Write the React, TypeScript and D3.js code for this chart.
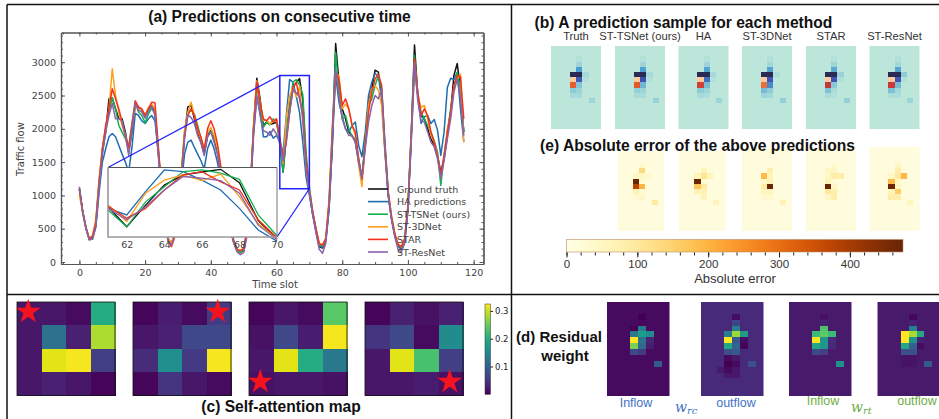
import React, { useEffect, useRef } from 'react';
import * as d3 from 'd3';

const slots = d3.range(118);
const truth = [
  1100,760,520,340,370,560,1150,1650,1950,2450,
  2460,2300,2150,2150,1950,1650,1950,2350,2320,2280,
  2200,2300,2350,2250,1650,1050,620,340,280,420,
  700,1250,1900,2330,2350,2150,1950,1800,1620,1900,
  1970,1850,1650,1350,1000,750,500,300,180,150,
  170,420,1050,2000,2760,2450,2050,2100,2070,2080,
  2100,1840,1350,1880,2370,2620,2690,2755,2430,1500,
  1050,720,480,230,210,330,850,1750,3280,2700,
  2300,2150,1950,1900,1800,1500,1250,1800,2400,2600,
  2880,2850,2500,1700,1000,650,400,240,190,300,
  800,1900,3260,2500,2200,2150,2000,1850,1750,1600,
  1350,1550,1900,2250,2800,2980,2600,1950,
];
const haPred = [
  1090,750,500,330,350,520,1050,1500,1700,1880,
  1930,1880,1750,1620,1500,1350,1720,2230,2200,2120,
  2080,2150,2200,2120,1650,1100,650,360,270,400,
  650,1150,1620,1800,1830,1720,1620,1520,1400,1700,
  1830,1700,1500,1250,950,720,480,290,170,150,
  190,450,1000,1900,2480,2250,1880,1880,1960,1860,
  1900,1800,1640,2210,2740,2700,2490,2250,1800,1270,
  1000,720,460,240,220,320,780,1800,2800,2400,
  2180,2000,1950,2050,2100,1750,1580,1950,2500,2700,
  2830,2790,2450,1650,1000,650,400,240,200,320,
  800,1800,2900,2500,2080,2180,2200,2080,2140,1980,
  1600,1950,2620,2760,2740,2850,2300,1800,
];
const tsNet = [
  1100,760,500,350,390,600,1220,1700,2000,2250,
  2470,2300,2050,1950,1850,1720,2080,2400,2250,2200,
  2090,2220,2310,2230,1700,1100,640,350,270,400,
  720,1300,1950,2250,2280,2220,2050,1850,1680,1880,
  1960,1880,1700,1400,1020,760,500,290,170,140,
  180,450,1080,2020,2650,2350,2020,2100,2060,2150,
  2120,1760,1350,1960,2330,2700,2740,2660,2510,1640,
  1130,760,500,260,240,340,880,1950,3150,2580,
  2150,2200,2000,1880,1850,1550,1280,1800,2350,2450,
  2650,2800,2600,1800,1050,680,420,260,220,330,
  830,1950,3100,2500,2250,2150,2050,1950,1820,1650,
  1150,1600,1950,2300,2600,2850,2600,1950,
];
const st3d = [
  1000,740,510,360,400,640,1250,1720,2020,2300,
  2900,2500,2250,2050,1900,1680,2000,2350,2300,2290,
  2200,2320,2370,2300,1700,1080,640,350,290,430,
  760,1300,1980,2250,2400,2200,1980,1850,1700,1950,
  2020,1900,1720,1400,1030,770,510,310,190,170,
  210,470,1100,2060,2720,2400,2130,2130,2070,2120,
  2140,1880,1480,2170,2490,2620,2480,2640,2090,1430,
  1050,750,490,270,260,360,950,2050,2820,2800,
  2300,2370,2300,2050,1900,1450,1130,1750,2350,2600,
  2650,2580,2350,1650,1050,680,430,270,230,360,
  860,1900,3000,2500,2320,2350,2150,1900,1800,1600,
  1280,1580,2000,2200,2650,2750,2820,1800,
];
const star = [
  1100,760,510,350,380,590,1200,1700,2050,2300,
  2600,2450,2300,2100,1900,1720,2050,2420,2330,2300,
  2200,2300,2400,2390,1750,1100,650,320,230,370,
  720,1280,1900,2200,2300,2200,2000,1880,1680,2000,
  2120,2000,1780,1450,1070,790,530,320,190,170,
  200,470,1080,1980,2700,2380,2150,2120,2180,2100,
  2150,1860,1560,1800,2250,2620,2700,2450,2250,1520,
  1080,760,500,280,250,350,900,1980,2850,2750,
  2350,2450,2300,2050,1950,1550,1250,1750,2250,2550,
  2750,2820,2650,1750,1050,680,420,260,230,350,
  830,1900,3050,2550,2200,2300,2200,1950,1800,1600,
  1300,1600,1950,2250,2650,2800,2780,2150,
];
const stRes = [
  1130,740,520,340,340,540,1120,1620,1950,2200,
  2380,2150,2150,2120,1900,1600,1980,2380,2280,2250,
  2160,2260,2340,2200,1620,1000,580,310,260,390,
  680,1220,1850,2210,2170,2080,1900,1790,1600,1880,
  1950,1800,1620,1300,960,720,470,280,150,110,
  140,390,1000,1920,2500,2200,1970,1950,1900,2000,
  1920,1800,1520,1840,2250,2580,2540,2480,2170,1390,
  1040,720,440,190,130,280,820,1880,2900,2480,
  2150,2000,1900,1900,1800,1500,1250,1700,2100,2350,
  2500,2450,2600,1720,1020,640,380,190,150,280,
  780,1830,3000,2420,2120,2100,1950,1800,1730,1550,
  1250,1520,1850,2150,2550,2750,2450,1900,
];

const seriesNames = ['Ground truth', 'HA predictions', 'ST-TSNet (ours)', 'ST-3DNet', 'STAR', 'ST-ResNet'];
const seriesValues = [truth, haPred, tsNet, st3d, star, stRes];
const seriesColors = ['#111111', '#1f6db0', '#12b04f', '#ff9f1c', '#f4311a', '#8a62a8'];

// [row, col, value] on an 8 x 16 grid, everything else is background
type Cell = [number, number, number];

const sampleNames = ['Truth', 'ST-TSNet (ours)', 'HA', 'ST-3DNet', 'STAR', 'ST-ResNet'];
const sampleTruth: Cell[] = [[2,4,.03],[3,4,.1],[4,4,.3],[5,3,.6],[5,4,.6],[5,5,.07],[6,3,1],[6,4,.44],[6,5,.03],[7,3,.84],[7,4,.17],[8,3,.15],[8,4,.1],[9,3,.07],[9,4,.07],[10,6,.1]];
const sampleTs: Cell[] = [[2,4,.03],[3,4,.1],[4,4,.29],[5,3,.6],[5,4,.6],[5,5,.07],[6,3,1],[6,4,.46],[6,5,.03],[7,3,.83],[7,4,.22],[8,3,.13],[8,4,.1],[9,3,.06],[9,4,.06],[10,6,.11]];
const sampleHa: Cell[] = [[2,4,.03],[3,4,.1],[4,4,.28],[5,3,.6],[5,4,.6],[5,5,.07],[6,3,1],[6,4,.4],[6,5,.03],[7,3,.77],[7,4,.2],[8,3,.15],[8,4,.1],[9,3,.07],[9,4,.05],[10,6,.1]];
const sample3d: Cell[] = [[2,4,.03],[3,4,.08],[4,4,.28],[5,3,.6],[5,4,.6],[5,5,.05],[6,3,1],[6,4,.45],[7,3,.87],[7,4,.34],[8,3,.2],[8,4,.15],[9,3,.1],[9,4,.08],[10,6,.13]];
const sampleStar: Cell[] = [[2,4,.03],[3,4,.1],[4,4,.26],[5,3,.6],[5,4,.6],[5,5,.11],[6,3,1],[6,4,.45],[6,5,.04],[7,3,.74],[7,4,.16],[8,3,.18],[8,4,.06],[9,3,.06],[9,4,.03],[10,6,.12]];
const sampleRes: Cell[] = [[2,4,.03],[3,4,.08],[4,4,.28],[5,3,.6],[5,4,.6],[5,5,.15],[6,3,1],[6,4,.45],[6,5,.03],[7,3,.75],[7,4,.2],[8,3,.18],[8,4,.08],[9,3,.05],[9,4,.05],[10,6,.1]];
const sampleCells = [sampleTruth, sampleTs, sampleHa, sample3d, sampleStar, sampleRes];

const errTs: Cell[] = [[3,4,35],[4,4,135],[5,3,50],[5,4,50],[5,5,35],[6,3,470],[6,4,30],[7,3,380],[7,4,200],[8,3,70],[8,4,25],[9,3,35],[9,4,45],[10,6,95]];
const errHa: Cell[] = [[4,4,60],[5,3,60],[5,4,110],[5,5,60],[6,3,470],[6,4,30],[7,3,170],[7,4,95],[8,3,70],[8,4,70],[9,4,60],[10,6,60]];
const err3d: Cell[] = [[4,4,85],[5,3,190],[5,4,60],[6,3,40],[6,4,70],[7,3,90],[7,4,470],[8,3,60],[8,4,60],[9,3,35],[9,4,35],[10,6,70]];
const errStar: Cell[] = [[3,4,35],[4,3,50],[4,4,50],[5,3,45],[5,4,85],[5,5,85],[6,3,65],[6,4,30],[7,3,470],[7,4,45],[8,3,100],[8,4,80],[9,3,50],[9,4,85]];
const errRes: Cell[] = [[3,4,50],[4,4,85],[5,3,45],[5,4,100],[5,5,195],[6,3,190],[6,4,45],[7,3,470],[7,4,50],[8,3,60],[8,4,160],[9,3,85],[9,4,85],[10,6,60]];
const errCells = [errTs, errHa, err3d, errStar, errRes];
const errTicks = [0, 100, 200, 300, 400];

const attentionA = [[.02,.02,.01,.2],[.02,.12,.03,.285],[.02,.31,.32,.06],[.02,.03,.02,.005]];
const attentionB = [[.005,.025,.01,.055],[.02,.03,.07,.07],[.04,.16,.055,.32],[.005,.05,.02,.01]];
const attentionC = [[.005,.02,.01,.24],[.015,.07,.025,.32],[.02,.31,.2,.13],[.015,.02,.02,.015]];
const attentionD = [[.005,.03,.015,.03],[.05,.07,.01,.155],[.02,.31,.23,.06],[.02,.02,.025,.015]];
const attentionMaps = [attentionA, attentionB, attentionC, attentionD];
const starCells = [[0, 0], [0, 3], [3, 0], [3, 3]];
const attentionTicks = [0.1, 0.2, 0.3];

const weightInRc: Cell[] = [[2,4,.0],[3,4,.02],[4,3,.0],[4,4,.4],[5,3,.4],[5,4,.55],[5,5,.48],[6,3,1],[6,4,.37],[6,5,.1],[7,3,.8],[7,4,.34],[7,5,.08],[8,3,.22],[8,4,.17],[9,3,.03],[9,4,.03],[10,6,.28]];
const weightOutRc: Cell[] = [[2,4,.03],[3,4,.2],[4,4,.42],[5,3,.42],[5,4,.85],[5,5,.55],[6,3,1],[6,4,.28],[6,5,.03],[7,3,.6],[7,4,.33],[7,5,.01],[8,3,.24],[8,4,.28],[9,3,.03],[9,4,.07],[10,3,.0],[10,4,.03],[10,6,.24],[11,2,.07],[11,3,.03],[11,4,.06],[12,3,.06],[12,4,.06]];
const weightInRt: Cell[] = [[2,4,.04],[3,4,.09],[4,4,.72],[5,3,.68],[5,4,.75],[5,5,.68],[6,3,1],[6,4,.52],[6,5,.12],[7,3,.6],[7,4,.52],[7,5,.12],[8,3,.22],[8,4,.18],[10,6,.5]];
const weightOutRt: Cell[] = [[2,4,.02],[3,4,.09],[4,4,.42],[5,3,1],[5,4,.87],[5,5,.6],[6,3,1],[6,4,.5],[6,5,.09],[7,3,.6],[7,4,.3],[7,5,.03],[8,3,.24],[8,4,.24],[9,3,.05],[9,4,.05],[10,3,.05],[10,4,.05],[10,6,.28]];
const weightCells = [weightInRc, weightOutRc, weightInRt, weightOutRt];
const weightBase = [.03, .12, .07, .07];

const sans = '"Liberation Sans", Arial, sans-serif';
const deja = '"DejaVu Sans", sans-serif';

const App = () => {
  const svgRef = useRef<SVGSVGElement>(null);

  useEffect(() => {
    const svg = d3.select(svgRef.current);
    svg.selectAll('*').remove();

    const title = (s: string, x: number, y: number, size = 15.6) =>
      svg.append('text').text(s).attr('x', x).attr('y', y).attr('text-anchor', 'middle')
        .style('font', `bold ${size}px ${sans}`).attr('fill', '#111');

    // ---- (a) line chart
    const x = d3.scaleLinear().domain([-5.6, 123]).range([61, 483.5]);
    const y = d3.scaleLinear().domain([-30, 3446]).range([264, 32.5]);
    const line = d3.line<number>().x((_, i) => x(slots[i])).y((d) => y(d));

    const main = svg.append('g');
    seriesValues.forEach((vals, i) => {
      main.append('path').attr('d', line(vals)).attr('fill', 'none')
        .attr('stroke', seriesColors[i]).attr('stroke-width', 1.5).attr('stroke-linejoin', 'round');
    });

    const axisStyle = (g: any) => {
      g.selectAll('path').attr('stroke', '#555').attr('stroke-width', 1.2);
      g.selectAll('line').attr('stroke', '#555');
      g.selectAll('text').attr('fill', '#444').style('font', `9.5px ${deja}`);
    };
    const xMajor = [0, 20, 40, 60, 80, 100, 120];
    const xMinor = d3.range(-5, 124, 5);
    const yMajor = [0, 500, 1000, 1500, 2000, 2500, 3000];
    const yMinor = d3.range(0, 3401, 100);
    const addAxis = (axis: any, tf: string, minor: number[], major: number[], labels: boolean) => {
      svg.append('g').attr('transform', tf).call(axis.tickValues(minor).tickSizeOuter(0).tickSizeInner(-2).tickFormat(() => '')).call(axisStyle);
      svg.append('g').attr('transform', tf).call(axis.tickValues(major).tickSizeOuter(0).tickSizeInner(-4).tickPadding(5).tickFormat(labels ? (d: any) => `${d}` : () => '')).call(axisStyle);
    };
    addAxis(d3.axisBottom(x), 'translate(0,264)', xMinor, xMajor, true);
    addAxis(d3.axisTop(x), 'translate(0,32.5)', xMinor, xMajor, false);
    addAxis(d3.axisLeft(y), 'translate(61,0)', yMinor, yMajor, true);
    addAxis(d3.axisRight(y), 'translate(483.5,0)', yMinor, yMajor, false);

    svg.append('text').text('Time slot').attr('x', 275).attr('y', 288).attr('text-anchor', 'middle')
      .attr('fill', '#444').style('font', `10px ${deja}`);
    svg.append('text').text('Traffic flow').attr('transform', 'translate(24,149) rotate(-90)')
      .attr('text-anchor', 'middle').attr('fill', '#444').style('font', `10px ${deja}`);

    // zoom box, connectors and inset
    const zoomX: [number, number] = [61, 70];
    const zoomY: [number, number] = [1100, 2800];
    const insetX = d3.scaleLinear().domain(zoomX).range([108, 277]);
    const insetY = d3.scaleLinear().domain(zoomY).range([237, 167.5]);
    const blue = '#2222ff';
    svg.append('rect').attr('x', x(zoomX[0])).attr('y', y(zoomY[1]))
      .attr('width', x(zoomX[1]) - x(zoomX[0])).attr('height', y(zoomY[0]) - y(zoomY[1]))
      .attr('fill', 'none').attr('stroke', blue).attr('stroke-width', 1.5);
    svg.append('rect').attr('x', 108).attr('y', 167.5).attr('width', 169).attr('height', 69.5).attr('fill', '#fff');
    [[insetX(61), insetY(2800), x(61), y(2800)], [insetX(70), insetY(1100), x(70), y(1100)]].forEach(([a, b, c, d]) => {
      svg.append('line').attr('x1', a).attr('y1', b).attr('x2', c).attr('y2', d)
        .attr('stroke', blue).attr('stroke-width', 1.3);
    });
    const insetIdx = d3.range(61, 71);
    seriesValues.forEach((vals, i) => {
      const insetLine = d3.line<number>().x((k) => insetX(k)).y((k) => insetY(vals[k]));
      svg.append('path').attr('d', insetLine(insetIdx)).attr('fill', 'none')
        .attr('stroke', seriesColors[i]).attr('stroke-width', 1.3);
    });
    svg.append('path').attr('d', 'M108,167.5H277').attr('stroke', '#555').attr('stroke-width', 1);
    svg.append('path').attr('d', 'M277,167.5V237').attr('stroke', '#777').attr('stroke-width', 1);
    svg.append('path').attr('d', 'M108,167.5V237H277').attr('fill', 'none').attr('stroke', '#999').attr('stroke-width', 1.6);
    svg.append('g').attr('transform', 'translate(0,237)')
      .call(d3.axisBottom(insetX).tickValues([62, 64, 66, 68, 70]).tickSize(0).tickPadding(4))
      .call(axisStyle).call((g: any) => g.select('path').remove());

    // legend
    seriesNames.forEach((name, i) => {
      const ly = 189 + i * 12.6;
      svg.append('line').attr('x1', 368).attr('x2', 388).attr('y1', ly).attr('y2', ly)
        .attr('stroke', seriesColors[i]).attr('stroke-width', 1.6);
      svg.append('text').text(name).attr('x', 397).attr('y', ly + 3.5).attr('fill', '#444')
        .style('font', `9.5px ${deja}`);
    });

    title('(a) Predictions on consecutive time', 279.5, 22);

    // ---- grids of 8 x 16 cells
    const drawGrid = (cells: Cell[], base: string, left: number, top: number, w: number, h: number, color: (v: number) => string, fullLeft = left) => {
      const cols = d3.scaleBand<number>().domain(d3.range(8)).range([fullLeft, left + w]);
      const rows = d3.scaleBand<number>().domain(d3.range(16)).range([top, top + h]);
      svg.append('rect').attr('x', left).attr('y', top).attr('width', w).attr('height', h).attr('fill', base);
      svg.append('g').attr('shape-rendering', 'crispEdges').selectAll('rect').data(cells).enter().append('rect')
        .attr('x', (d) => cols(d[1]) as number).attr('y', (d) => rows(d[0]) as number)
        .attr('width', cols.bandwidth()).attr('height', rows.bandwidth())
        .attr('fill', (d) => color(d[2]));
    };

    // ---- (b)
    const flowColor = d3.scaleLinear<string>()
      .domain([0, .15, .3, .45, .6, .75, .85, 1])
      .range(['#bce6d9', '#8ccbd8', '#4a9fd0', '#3f55b5', '#2b2a55', '#c9393a', '#e8602c', '#fdcb9e']);
    const sampleLeft = [551, 615, 678.5, 742, 806, 869.5];
    sampleNames.forEach((name, i) => {
      drawGrid(sampleCells[i], flowColor(0), sampleLeft[i], 46, 50, 83, (v) => flowColor(v));
      svg.append('text').text(name).attr('x', sampleLeft[i] + 25).attr('y', 39.5).attr('text-anchor', 'middle')
        .attr('fill', '#333').style('font', `11.2px ${sans}`);
    });
    title('(b) A prediction sample for each method', 683.5, 27.5);

    // ---- (e)
    const errColor = d3.scaleSequential(d3.interpolateYlOrBr).domain([0, 475]);
    const errLeft = [618, 679, 742, 806, 869.5];
    const errFull = [614, 675.5, 742, 806, 869.5];
    const errTop = [151, 151, 148, 148, 147];
    errCells.forEach((cells, i) => {
      // rows stay on the full panel height, the title hides the top of some panels
      const cols = d3.scaleBand<number>().domain(d3.range(8)).range([errFull[i], errLeft[i] + 50 - (errLeft[i] - errFull[i])]);
      const rows = d3.scaleBand<number>().domain(d3.range(16)).range([147, 231]);
      svg.append('rect').attr('x', errLeft[i]).attr('y', errTop[i]).attr('width', 50 - (errLeft[i] - errFull[i])).attr('height', 231 - errTop[i]).attr('fill', '#fefcdc');
      svg.append('g').attr('shape-rendering', 'crispEdges').selectAll('rect').data(cells).enter().append('rect')
        .attr('x', (d) => cols(d[1]) as number).attr('y', (d) => rows(d[0]) as number)
        .attr('width', cols.bandwidth()).attr('height', rows.bandwidth())
        .attr('fill', (d) => errColor(d[2]));
    });
    title('(e) Absolute error of the above predictions', 697.5, 151);

    // colorbar for (e)
    const errBar = d3.scaleLinear().domain([0, 475]).range([566.5, 903]);
    const defs = svg.append('defs');
    const gradE = defs.append('linearGradient').attr('id', 'errGrad');
    d3.range(0, 476, 25).forEach((v) => gradE.append('stop').attr('offset', `${(v / 475) * 100}%`).attr('stop-color', errColor(v)));
    svg.append('rect').attr('x', 566.5).attr('y', 239.5).attr('width', 336.5).attr('height', 12.5)
      .attr('fill', 'url(#errGrad)').attr('stroke', '#b98d6a').attr('stroke-width', 0.6);
    svg.append('g').attr('transform', 'translate(0,252.5)')
      .call(d3.axisBottom(errBar).tickValues(d3.range(0, 461, 20)).tickSize(3).tickFormat(() => ''))
      .call((g: any) => { g.select('path').remove(); g.selectAll('line').attr('stroke', '#222'); });
    svg.append('g').attr('transform', 'translate(0,252.5)')
      .call(d3.axisBottom(errBar).tickValues(errTicks).tickSize(5).tickPadding(2))
      .call((g: any) => {
        g.select('path').remove();
        g.selectAll('line').attr('stroke', '#222');
        g.selectAll('text').attr('fill', '#333').style('font', `11.5px ${sans}`);
      });
    svg.append('text').text('Absolute error').attr('x', 735).attr('y', 283).attr('text-anchor', 'middle')
      .attr('fill', '#333').style('font', `13px ${sans}`);

    // ---- (c)
    const viridis = d3.scaleSequential(d3.interpolateViridis).domain([0, 0.325]);
    const attLeft = [17, 133, 249, 365];
    attentionMaps.forEach((m, i) => {
      const cols = d3.scaleBand<number>().domain(d3.range(4)).range([attLeft[i], attLeft[i] + 98]);
      const rows = d3.scaleBand<number>().domain(d3.range(4)).range([302, 395.5]);
      svg.append('g').attr('shape-rendering', 'crispEdges').selectAll('g').data(m).enter().append('g').each(function (row, r) {
        d3.select(this).selectAll('rect').data(row).enter().append('rect')
          .attr('x', (_, c) => cols(c) as number).attr('y', rows(r) as number)
          .attr('width', cols.bandwidth() + 0.5).attr('height', rows.bandwidth() + 0.5)
          .attr('fill', (v) => viridis(v));
      });
      svg.append('rect').attr('x', attLeft[i]).attr('y', 302).attr('width', 98).attr('height', 93.5)
        .attr('fill', 'none').attr('stroke', '#111').attr('stroke-width', 0.8);
      const [sr, sc] = starCells[i];
      svg.append('path').attr('d', d3.symbol(d3.symbolStar).size(190)())
        .attr('transform', `translate(${(cols(sc) as number) + cols.bandwidth() / 2 - 1},${(rows(sr) as number) + rows.bandwidth() / 2 - 2})`)
        .attr('fill', '#f5141e');
    });
    const attBar = d3.scaleLinear().domain([0, 0.325]).range([394.3, 304]);
    const gradV = defs.append('linearGradient').attr('id', 'attGrad').attr('x1', 0).attr('x2', 0).attr('y1', 1).attr('y2', 0);
    d3.range(0, 1.01, 0.1).forEach((t) => gradV.append('stop').attr('offset', `${t * 100}%`).attr('stop-color', d3.interpolateViridis(t)));
    svg.append('rect').attr('x', 485).attr('y', 304).attr('width', 5.5).attr('height', 90.3)
      .attr('fill', 'url(#attGrad)').attr('stroke', '#333').attr('stroke-width', 0.5);
    svg.append('g').attr('transform', 'translate(490.5,0)')
      .call(d3.axisRight(attBar).tickValues(attentionTicks).tickSize(2.5).tickPadding(2).tickFormat(d3.format('.1f')))
      .call((g: any) => {
        g.select('path').remove();
        g.selectAll('line').attr('stroke', '#222');
        g.selectAll('text').attr('fill', '#222').style('font', `8.5px ${deja}`);
      });
    title('(c) Self-attention map', 281, 412);

    // ---- (d)
    const weightLeft = [607, 701, 789, 877.5];
    weightCells.forEach((cells, i) => {
      drawGrid(cells, viridis(weightBase[i] * 0.325), weightLeft[i], 302, 62.5, 94, (v) => viridis(v * 0.325));
    });
    title('(d) Residual', 559, 342, 15);
    title('weight', 565, 361, 15);
    const note = (s: string, px: number, py: number, fill: string) =>
      svg.append('text').text(s).attr('x', px).attr('y', py).attr('text-anchor', 'middle')
        .attr('fill', fill).style('font', `12.5px ${sans}`);
    note('Inflow', 636, 407, '#4472c4');
    note('outflow', 736, 407, '#4472c4');
    note('Inflow', 823, 405, '#70ad47');
    note('outflow', 917, 405, '#70ad47');
    const mathLabel = (sub: string, px: number, fill: string) => {
      const t = svg.append('text').attr('x', px).attr('y', 412).attr('fill', fill)
        .style('font', `italic 14px "DejaVu Serif", serif`);
      t.append('tspan').text('w');
      t.append('tspan').text(sub).attr('dy', 2).style('font-size', '10px');
    };
    mathLabel('rc', 675, '#4472c4');
    mathLabel('rt', 851, '#70ad47');

    // ---- panel frames
    const frame = '#111';
    [[7, 4.5, 939, 4.5], [7, 4.5, 7, 419], [7, 294.5, 939, 294.5], [511.5, 4.5, 511.5, 419]].forEach(([a, b, c, d]) => {
      svg.append('line').attr('x1', a).attr('y1', b).attr('x2', c).attr('y2', d)
        .attr('stroke', frame).attr('stroke-width', 1.5);
    });
  }, []);

  return (
    <svg ref={svgRef} width={939} height={419} style={{ position: 'absolute', left: 0, top: 0, background: '#fff' }} />
  );
};

export default App;
